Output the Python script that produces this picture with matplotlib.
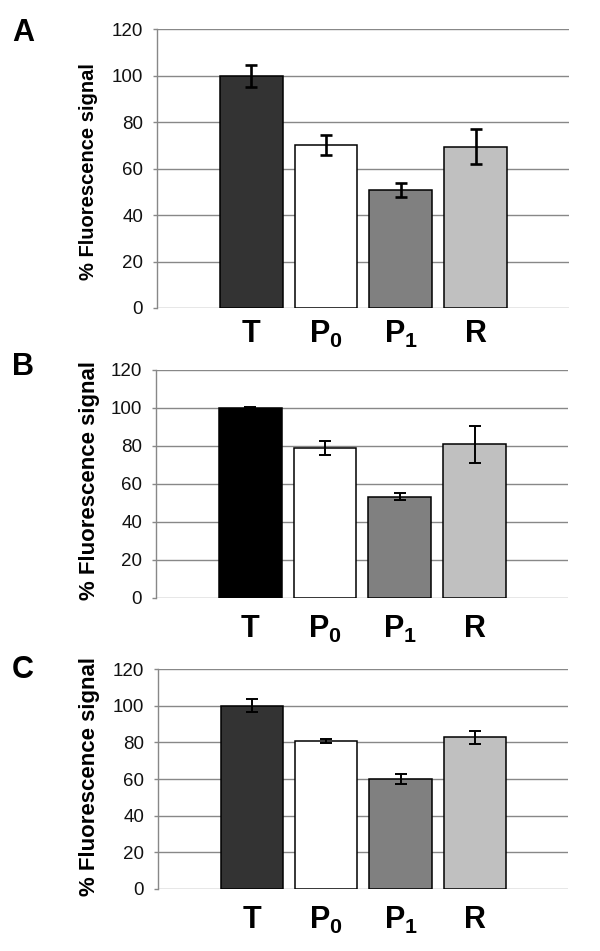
import numpy as np
import matplotlib
matplotlib.use("Agg")
import matplotlib.pyplot as plt

plt.rcParams["font.family"] = ["Liberation Sans", "DejaVu Sans"]
plt.rcParams["mathtext.fontset"] = "custom"
plt.rcParams["mathtext.rm"] = "Liberation Sans"
plt.rcParams["mathtext.bf"] = "Liberation Sans:bold"

CATEGORIES = [r"$\mathbf{T}$", r"$\mathbf{P_0}$", r"$\mathbf{P_1}$", r"$\mathbf{R}$"]

A_MEAN = [100, 70.2, 50.8, 69.4]
A_ERR = [4.8, 4.4, 3.2, 7.6]
B_MEAN = [100, 78.7, 53.2, 80.6]
B_ERR = [0.3, 3.7, 1.8, 9.8]
C_MEAN = [100, 80.8, 60.0, 82.7]
C_ERR = [3.6, 1.1, 2.6, 3.7]

COLORS_AC = ["#333333", "#ffffff", "#808080", "#c0c0c0"]
COLORS_B = ["#000000", "#ffffff", "#808080", "#c0c0c0"]

W, H = 600, 951
GRID = "#888888"

# (letter, means, errs, colors, [left, top, right, bottom] px, xlabel pad, err lw, label y px, label size, letter y px)
PANELS = [
    ("A", A_MEAN, A_ERR, COLORS_AC, (157, 29.3, 569, 308), 8.0, 1.9, 172, 14.5, 33),
    ("B", B_MEAN, B_ERR, COLORS_B, (156, 369.5, 568, 597.7), 11.5, 1.4, 481, 16, 367),
    ("C", C_MEAN, C_ERR, COLORS_AC, (158, 669.3, 568, 888.7), 11.5, 1.4, 776, 16, 670),
]


def draw_panel(fig, letter, means, errs, colors, box, xpad, elw, label_y, label_size, letter_y):
    l, t, r, b = box
    ax = fig.add_axes([l / W, 1 - b / H, (r - l) / W, (b - t) / H])
    x = np.arange(len(means))
    ax.bar(x, means, width=0.84, color=colors, edgecolor="black", linewidth=1.1, zorder=3)
    ax.errorbar(x, means, yerr=errs, fmt="none", ecolor="black", elinewidth=elw,
                capsize=4.5, capthick=elw, zorder=4)
    ax.set_xlim(-1.26, 4.25)
    ax.set_ylim(0, 120)
    ax.set_yticks(np.arange(0, 121, 20))
    ax.yaxis.grid(True, color=GRID, lw=1.0, zorder=0)
    ax.set_axisbelow(True)
    for side in ["top", "right", "bottom"]:
        ax.spines[side].set_visible(False)
    ax.spines["left"].set_color(GRID)
    ax.spines["left"].set_linewidth(1.0)
    ax.tick_params(axis="y", colors=GRID, labelcolor="#111111", labelsize=13.5,
                   length=3, width=1.0, pad=7)
    ax.set_xticks(x)
    ax.set_xticklabels(CATEGORIES, fontsize=22)
    ax.tick_params(axis="x", length=0, pad=xpad)
    fig.text(89 / W, 1 - label_y / H, "% Fluorescence signal", rotation=90,
             ha="center", va="center", fontsize=label_size, fontweight="bold")
    fig.text(23 / W, 1 - letter_y / H, letter, ha="center", va="center",
             fontsize=22, fontweight="bold")
    return ax


def main():
    fig = plt.figure(figsize=(W / 100, H / 100), dpi=100)
    for p in PANELS:
        draw_panel(fig, *p)
    fig.savefig("out.png", dpi=100, facecolor="white")


if __name__ == "__main__":
    main()
